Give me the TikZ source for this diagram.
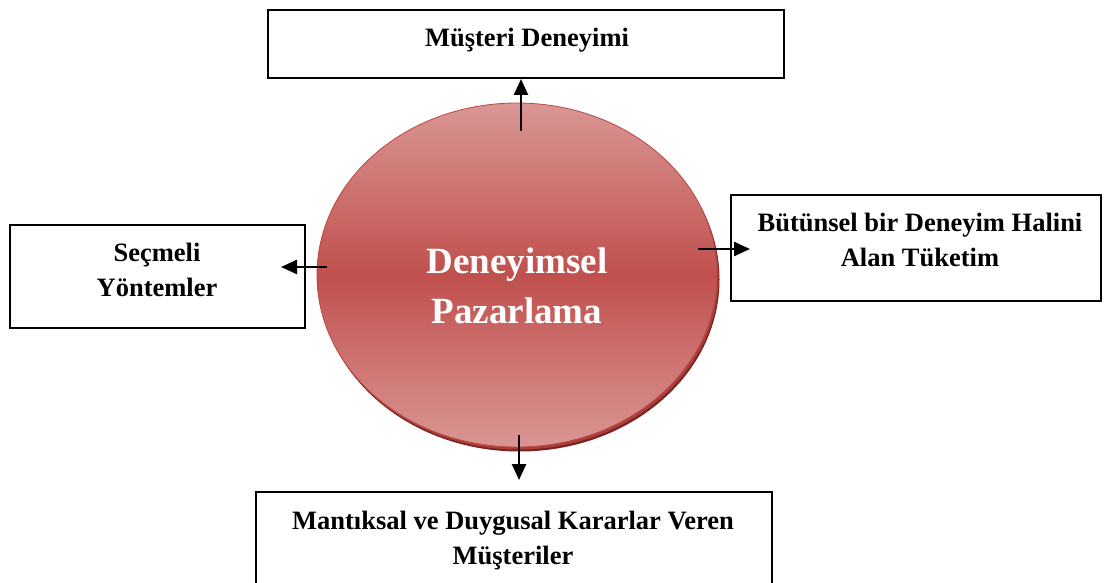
\documentclass[tikz,border=0pt]{standalone}
\usepackage{fontspec}
\setmainfont{Liberation Serif}
\usetikzlibrary{arrows.meta,shapes.geometric,shadows,calc}

\definecolor{ovalLight}{RGB}{218,150,148}
\definecolor{ovalDark}{RGB}{192,80,77}
\definecolor{ovalRim}{RGB}{186,72,69}
\definecolor{ovalShadow}{RGB}{122,36,34}
\definecolor{ovalShadowMid}{RGB}{170,62,59}

\begin{document}
\begin{tikzpicture}[x=1pt,y=-1pt,
  box/.style={draw=black, line width=2pt, fill=white, inner sep=0pt},
  % multi-line labels are placed by the baseline of their last line
  boxtext/.style={font=\fontsize{26.5}{35}\selectfont\bfseries, align=center,
                  anchor=base, inner sep=0pt},
  arr/.style={line width=2.5pt, -{Triangle[length=16pt,width=14pt]}},
]
% page area
\fill[white] (0,0) rectangle (1106,583);
\useasboundingbox (0,0) rectangle (1106,583);
\clip (0,0) rectangle (1106,583);

% central oval with a dark rim beneath it
\node[ellipse, minimum width=400pt, minimum height=344pt,
      draw=ovalRim, line width=0.8pt,
      top color=ovalLight, bottom color=ovalLight, middle color=ovalDark,
      drop shadow={shadow xshift=2.5pt, shadow yshift=-4.5pt, fill=ovalShadow, opacity=1},
      drop shadow={shadow xshift=1.5pt, shadow yshift=-2.5pt, fill=ovalShadowMid, opacity=1}]
  (ell) at (517,275) {};
\node[font=\fontsize{37}{50}\selectfont\bfseries, text=white, align=center,
      anchor=base, inner sep=0pt] (title) at (517,323) {Deneyimsel\\Pazarlama};

% surrounding boxes
\node[box, minimum width=516pt, minimum height=68pt]  (top)   at (526,44)    {};
\node[box, minimum width=295pt, minimum height=103pt] (left)  at (157.5,276.5) {};
\node[box, minimum width=370pt, minimum height=106pt] (right) at (916,248)   {};
\node[box, minimum width=516pt, minimum height=92pt]  (bot)   at (514,538)   {};

\node[boxtext] (topT)   at (527,47)  {Müşteri Deneyimi};
\node[boxtext] (leftT)  at (157,296) {Seçmeli\\Yöntemler};
\node[boxtext] (rightT) at (920,266) {Bütünsel bir Deneyim Halini\\Alan Tüketim};
\node[boxtext] (botT)   at (513,564) {Mantıksal ve Duygusal Kararlar Veren\\Müşteriler};

% arrows from the oval to the boxes
\coordinate (aTop)   at (521,131);
\coordinate (aLeft)  at (327,267);
\coordinate (aRight) at (698,249);
\coordinate (aBot)   at (519,435);
\draw[arr] (aTop) -- (aTop |- top.south);
\draw[arr] (aLeft) -- ($(left.east |- aLeft)+(-25,0)$);
\draw[arr] (aRight) -- ($(right.west |- aRight)+(20,0)$);
\draw[arr] (aBot) -- ($(bot.north -| aBot)+(0,-11)$);
\end{tikzpicture}
\end{document}
